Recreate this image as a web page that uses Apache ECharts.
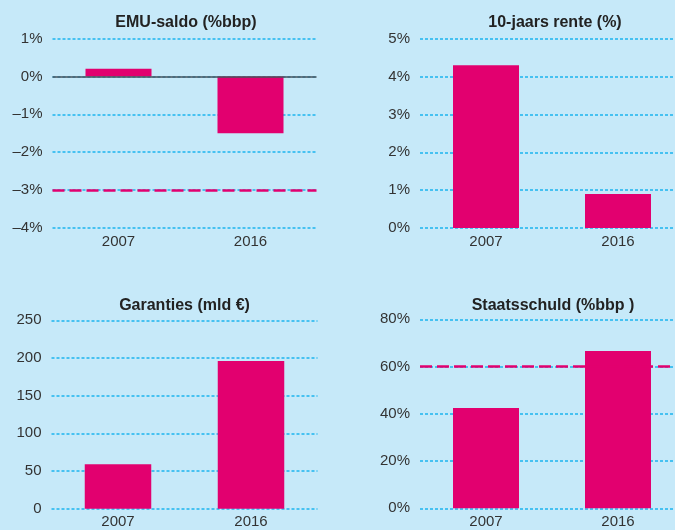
<!DOCTYPE html>
<html>
<head>
<meta charset="utf-8">
<script src="https://cdn.jsdelivr.net/npm/echarts@6/dist/echarts.min.js"></script>
<style>
  html, body { margin: 0; padding: 0; background: #c6e9f9; }
  #chart { width: 675px; height: 530px; }
</style>
</head>
<body>
<div id="chart"></div>
<script>
// Years shown in every panel
const years = ['2007', '2016'];

// Panel values
const emuSaldo = [0.2, -1.5];        // EMU-saldo (%bbp)
const rente10 = [4.3, 0.9];          // 10-jaars rente (%)
const garanties = [59, 196];         // Garanties (mld €)
const staatsschuld = [42.5, 66.6];   // Staatsschuld (%bbp)

// Reference levels (EMU norms)
const emuNorm = -3;
const schuldNorm = 60;

// Panel titles
const titles = ['EMU-saldo (%bbp)', '10-jaars rente (%)', 'Garanties (mld €)', 'Staatsschuld (%bbp )'];

// Y-axis ranges: [min, max, interval]
const yRanges = [[-4, 1, 1], [0, 5, 1], [0, 250, 50], [0, 80, 20]];

const PINK = '#e2006f';
const GRIDBLUE = '#1db4ee';
const TEXT = '#333333';
const FONT = '"Liberation Sans", Arial, Helvetica, sans-serif';

const pct = v => (String(v).replace('-', '\u2013')) + '%';
const plain = v => String(v);
const formatters = [pct, pct, plain, pct];

// Right-hand panels run slightly past the page edge
const grids = [
  { left: 52.5, width: 264, top: 38.5, height: 189.5 },
  { left: 420, width: 264, top: 38.7, height: 189.3 },
  { left: 51.5, width: 266, top: 320.3, height: 188.4 },
  { left: 420, width: 264, top: 319.3, height: 189 }
];

const titlePos = [[186, 15], [555, 15], [184.5, 298], [553, 298]];

const seriesData = [emuSaldo, rente10, garanties, staatsschuld];

const dashedNorm = v => ({
  yAxis: v,
  lineStyle: { color: PINK, type: [12, 5], width: 2.5 }
});
const zeroLine = {
  yAxis: 0,
  lineStyle: { color: '#4a5058', type: 'solid', width: 1.5 }
};
const markLines = [
  [zeroLine, dashedNorm(emuNorm)],
  [],
  [],
  [dashedNorm(schuldNorm)]
];

const option = {
  backgroundColor: '#c6e9f9',
  animation: false,
  textStyle: { fontFamily: FONT },
  title: titles.map((t, i) => ({
    text: t,
    left: titlePos[i][0],
    top: titlePos[i][1],
    textAlign: 'center',
    padding: 0,
    textStyle: { fontSize: 16, fontWeight: 'bold', color: '#222', fontFamily: FONT }
  })),
  grid: grids.map(g => Object.assign({ containLabel: false, outerBoundsMode: 'none' }, g)),
  xAxis: grids.map((g, i) => ({
    type: 'category',
    gridIndex: i,
    data: years,
    axisLine: { show: false },
    axisTick: { show: false },
    axisLabel: { color: TEXT, fontSize: 15, margin: 6, fontFamily: FONT }
  })),
  yAxis: yRanges.map((r, i) => ({
    type: 'value',
    gridIndex: i,
    min: r[0],
    max: r[1],
    interval: r[2],
    axisLine: { show: false },
    axisTick: { show: false },
    axisLabel: { color: TEXT, fontSize: 15, margin: 10, fontFamily: FONT, formatter: formatters[i] },
    splitLine: { show: true, lineStyle: { color: GRIDBLUE, type: [3, 2], width: 1.5 } }
  })),
  series: seriesData.map((d, i) => ({
    type: 'bar',
    xAxisIndex: i,
    yAxisIndex: i,
    data: d,
    barWidth: '50%',
    itemStyle: { color: PINK },
    z: 3,
    markLine: markLines[i].length ? {
      silent: true,
      symbol: 'none',
      label: { show: false },
      z: 4,
      data: markLines[i]
    } : undefined
  }))
};

const chart = echarts.init(document.getElementById('chart'), null, { renderer: 'canvas' });
chart.setOption(option);
</script>
</body>
</html>
